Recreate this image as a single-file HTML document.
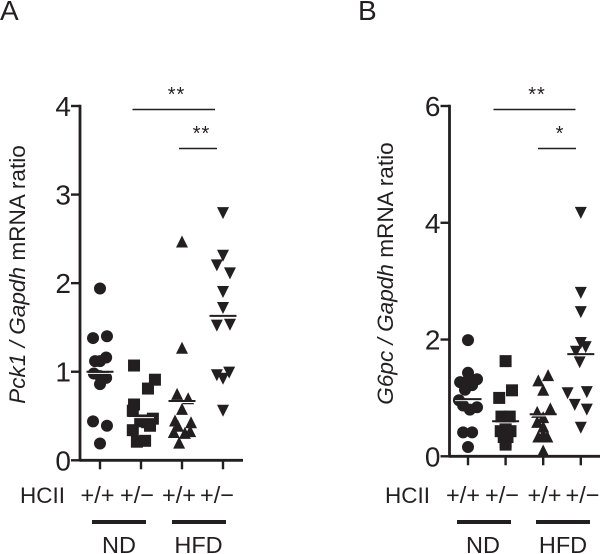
<!DOCTYPE html>
<html>
<head>
<meta charset="utf-8">
<style>
html,body{margin:0;padding:0;background:#fff;}
svg{display:block;font-family:"Liberation Sans",Arial,sans-serif;fill:#231f20;}
</style>
</head>
<body>
<svg id="fig" width="600" height="554" viewBox="0 0 600 554" xmlns="http://www.w3.org/2000/svg">
  <rect width="600" height="554" fill="#fff"></rect>
  <text x="0" y="20" font-size="28">A</text>
  <text x="358" y="20" font-size="28">B</text>

  <text transform="translate(25,274.5) rotate(-90)" text-anchor="middle" font-size="22.6"><tspan font-style="italic">Pck1 / Gapdh</tspan> mRNA ratio</text>
  <text transform="translate(393,273.5) rotate(-90)" text-anchor="middle" font-size="22.6"><tspan font-style="italic">G6pc / Gapdh</tspan> mRNA ratio</text>

  <text x="20" y="503" font-size="22.5">HCII</text>
  <text x="80.5" y="503" font-size="23.5">+/+</text>
  <text x="120" y="503" font-size="23.5">+/−</text>
  <text x="162" y="503" font-size="23.5">+/+</text>
  <text x="200" y="503" font-size="23.5">+/−</text>
  <text x="385" y="503" font-size="22.5">HCII</text>
  <text x="446" y="503" font-size="23.5">+/+</text>
  <text x="485" y="503" font-size="23.5">+/−</text>
  <text x="527.5" y="503" font-size="23.5">+/+</text>
  <text x="565.5" y="503" font-size="23.5">+/−</text>

  <rect x="92" y="520" width="54" height="4"></rect>
  <rect x="172" y="520" width="54" height="4"></rect>
  <rect x="457" y="520" width="54" height="4"></rect>
  <rect x="536" y="520" width="54" height="4"></rect>
  <text x="119" y="553" text-anchor="middle" font-size="23.5">ND</text>
  <text x="198.5" y="553" text-anchor="middle" font-size="23.5">HFD</text>
  <text x="483" y="553" text-anchor="middle" font-size="23.5">ND</text>
  <text x="563" y="553" text-anchor="middle" font-size="23.5">HFD</text>

  <line x1="132.5" x2="215" y1="109.5" y2="109.5" stroke="#231f20" stroke-width="1.4"></line>
  <line x1="179" x2="217" y1="148.5" y2="148.5" stroke="#231f20" stroke-width="1.4"></line>
  <line x1="493.5" x2="575.5" y1="109.5" y2="109.5" stroke="#231f20" stroke-width="1.4"></line>
  <line x1="538" x2="576" y1="148.5" y2="148.5" stroke="#231f20" stroke-width="1.4"></line>
  <text x="176.5" y="101" text-anchor="middle" font-size="20" letter-spacing="1">**</text>
  <text x="201.5" y="140" text-anchor="middle" font-size="20" letter-spacing="1">**</text>
  <text x="537" y="101" text-anchor="middle" font-size="20" letter-spacing="1">**</text>
  <text x="559.5" y="140" text-anchor="middle" font-size="20">*</text>
</svg>
<script>
// Panel A data: Pck1 / Gapdh
var aTicks = [0, 1, 2, 3, 4];
var aNdWt = [1.94, 1.38, 1.40, 1.16, 1.12, 1.12, 0.98, 0.93, 0.95, 0.86, 0.44, 0.39, 0.19];
var aNdHet = [1.07, 0.91, 0.81, 0.63, 0.56, 0.45, 0.47, 0.43, 0.44, 0.39, 0.34, 0.21, 0.22];
var aHfdWt = [2.47, 1.27, 0.75, 0.70, 0.58, 0.45, 0.43, 0.39, 0.32, 0.33, 0.31, 0.20];
var aHfdHet = [2.79, 2.31, 2.20, 2.11, 1.90, 1.72, 1.52, 1.53, 0.96, 0.99, 0.92, 0.56];
var aMeans = [1.00, 0.50, 0.67, 1.63];
// Horizontal scatter of each point, as a fraction of one category band
var aNdWtJitter = [0, -0.17, 0.17, 0.15, -0.12, 0, -0.15, 0.15, 0, 0, -0.17, 0.17, 0];
var aNdHetJitter = [-0.17, 0.34, 0.17, -0.17, -0.2, 0.05, 0.29, 0.15, -0.02, 0.22, -0.2, -0.1, 0.1];
var aHfdWtJitter = [0, 0, -0.12, 0.15, 0, -0.17, 0.22, -0.1, -0.2, 0.2, 0.07, -0.07];
var aHfdHetJitter = [0, 0, -0.15, 0.17, 0, 0, -0.15, 0.17, -0.15, 0.15, 0, 0];

// Panel B data: G6pc / Gapdh
var bTicks = [0, 2, 4, 6];
var bNdWt = [1.99, 1.43, 1.27, 1.32, 1.30, 1.14, 1.22, 0.96, 0.87, 0.84, 0.80, 0.41, 0.41, 0.16];
var bNdHet = [1.63, 1.13, 1.00, 0.68, 0.68, 0.60, 0.50, 0.43, 0.43, 0.43, 0.33, 0.33, 0.25, 0.20];
var bHfdWt = [1.39, 1.30, 1.14, 0.82, 0.76, 0.67, 0.59, 0.51, 0.34, 0.34, 0.38, 0.10];
var bHfdHet = [4.17, 2.80, 2.47, 1.94, 1.87, 1.79, 1.61, 1.08, 1.10, 0.88, 0.80, 0.49];
var bMeans = [0.98, 0.60, 0.72, 1.75];
var bNdWtJitter = [0, 0, -0.21, 0.24, 0, -0.08, 0.11, -0.24, -0.13, 0.24, 0.05, -0.13, 0.11, 0];
var bNdHetJitter = [0, 0.17, -0.17, -0.11, 0.11, 0, 0, -0.13, 0.13, 0, -0.05, 0.05, 0, 0];
var bHfdWtJitter = [0.13, -0.13, 0, 0.19, -0.16, 0, -0.16, 0, -0.13, 0.11, 0, 0];
var bHfdHetJitter = [0, 0, 0, 0, 0.13, -0.13, -0.03, -0.35, 0.16, -0.16, 0.16, 0];

var svg = document.getElementById('fig');
var NS = 'http://www.w3.org/2000/svg';
var INK = '#231f20';

function make(tag, attrs) {
  var el = document.createElementNS(NS, tag);
  for (var k in attrs) el.setAttribute(k, attrs[k]);
  svg.appendChild(el);
  return el;
}

function marker(shape, cx, cy) {
  var r = 6, el;
  if (shape === 'circle') {
    el = make('circle', {cx: cx, cy: cy, r: r, fill: INK});
  } else if (shape === 'square') {
    el = make('rect', {x: cx - r, y: cy - r, width: 2 * r, height: 2 * r, fill: INK});
  } else if (shape === 'up') {
    el = make('polygon', {points: (cx - r) + ',' + (cy + r) + ' ' + (cx + r) + ',' + (cy + r) + ' ' + cx + ',' + (cy - r), fill: INK});
  } else {
    el = make('polygon', {points: (cx - r) + ',' + (cy - r) + ' ' + (cx + r) + ',' + (cy - r) + ' ' + cx + ',' + (cy + r), fill: INK});
  }
  return el;
}

function panel(cfg) {
  function yScale(v) { return cfg.y0 + (cfg.yTop - cfg.y0) * v / cfg.yMax; }
  function xScale(i) { return cfg.x0 + cfg.band * i; }

  var axisY = make('line', {x1: cfg.axisX, x2: cfg.axisX, y1: yScale(cfg.yMax) - 1.3, y2: cfg.y0 + 1.3, stroke: INK, 'stroke-width': 2.8});
  
  
  var axisX = make('line', {x1: cfg.axisX, x2: cfg.axisEnd, y1: cfg.y0, y2: cfg.y0, stroke: INK, 'stroke-width': 2.8});
  
  

  cfg.ticks.forEach(function (t) {
    var tick = make('line', {x1: cfg.axisX - 9, x2: cfg.axisX, y1: yScale(t), y2: yScale(t), stroke: INK, 'stroke-width': 2.4});
    
    
    var label = make('text', {x: cfg.axisX - 9, y: yScale(t) + 10, 'text-anchor': 'end', 'font-size': 28});
    label.textContent = t;
    
    
  });

  cfg.series.forEach(function (s, i) {
    var tick = make('line', {x1: xScale(i), x2: xScale(i), y1: cfg.y0, y2: cfg.y0 + 9, stroke: INK, 'stroke-width': 2.4});
    
    
    s.values.forEach(function (v, j) {
      var m = marker(s.shape, xScale(i) + s.jitter[j] * cfg.band, yScale(v));
      
      
    });
  });

  // mean lines sit on top, with a thin white halo where they cross markers
  cfg.series.forEach(function (s, i) {
    var y = yScale(cfg.means[i]);
    var halo = make('line', {x1: xScale(i) - 13, x2: xScale(i) + 13, y1: y + 1.6, y2: y + 1.6, stroke: '#fff', 'stroke-width': 1});
    
    
    var mean = make('line', {x1: xScale(i) - 13.5, x2: xScale(i) + 13.5, y1: y, y2: y, stroke: INK, 'stroke-width': 2});
    
    
  });
}

panel({
  id: 'a', axisX: 80, axisEnd: 243, y0: 460.3, yTop: 106, yMax: 4, x0: 100, band: 41,
  ticks: aTicks, means: aMeans,
  series: [
    {name: 'nd-wt', shape: 'circle', values: aNdWt, jitter: aNdWtJitter},
    {name: 'nd-het', shape: 'square', values: aNdHet, jitter: aNdHetJitter},
    {name: 'hfd-wt', shape: 'up', values: aHfdWt, jitter: aHfdWtJitter},
    {name: 'hfd-het', shape: 'down', values: aHfdHet, jitter: aHfdHetJitter}
  ]
});

panel({
  id: 'b', axisX: 449.5, axisEnd: 600, y0: 456.3, yTop: 106, yMax: 6, x0: 468, band: 37.6,
  ticks: bTicks, means: bMeans,
  series: [
    {name: 'nd-wt', shape: 'circle', values: bNdWt, jitter: bNdWtJitter},
    {name: 'nd-het', shape: 'square', values: bNdHet, jitter: bNdHetJitter},
    {name: 'hfd-wt', shape: 'up', values: bHfdWt, jitter: bHfdWtJitter},
    {name: 'hfd-het', shape: 'down', values: bHfdHet, jitter: bHfdHetJitter}
  ]
});
</script>
</body>
</html>
